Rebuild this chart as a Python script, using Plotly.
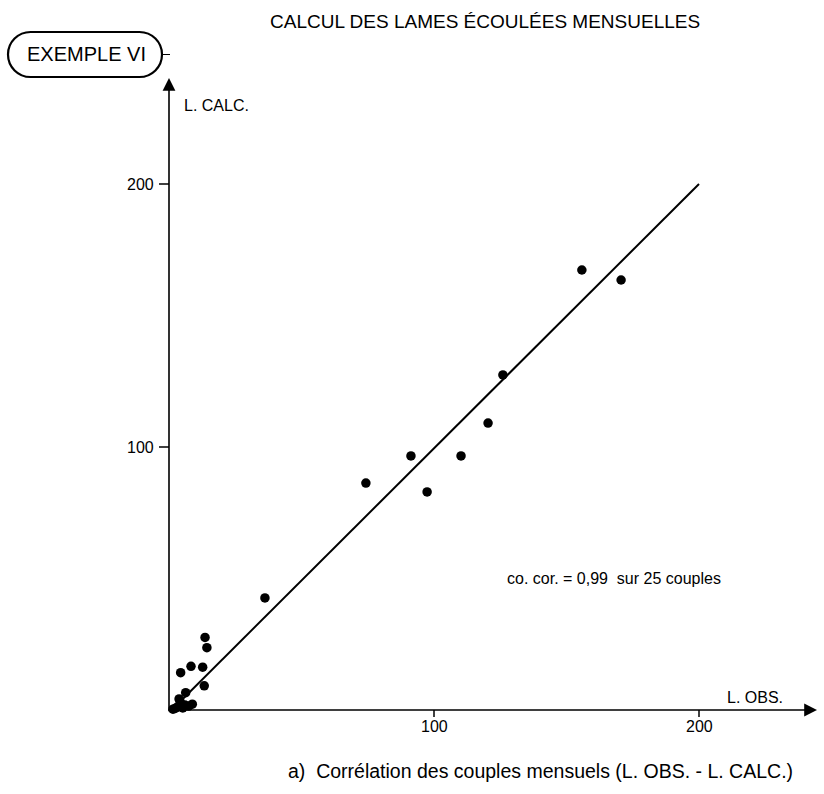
import plotly.graph_objects as go

# Monthly runoff depths (mm): observed vs computed
l_obs = [155.8, 170.6, 126.0, 120.4, 110.2, 91.3, 97.4, 74.3, 36.2,
         13.6, 14.3, 8.3, 4.4, 12.7, 13.3, 6.3, 3.8, 2.3, 6.0, 8.8,
         4.2, 1.5, 3.0, 5.2, 7.4]
l_calc = [167.3, 163.5, 127.4, 109.1, 96.6, 96.6, 82.9, 86.3, 42.6,
          27.6, 23.7, 16.6, 14.2, 16.3, 9.2, 6.6, 4.2, 0.6, 1.9, 2.2,
          3.2, 0.3, 1.0, 0.8, 1.5]

# Fitted line (close to the bisector)
fit_x = [1.5, 200.0]
fit_y = [0.5, 200.0]

x_ticks = [100, 200]
y_ticks = [100, 200]
x_tick_labels = ["100", "200"]
y_tick_labels = ["100", "200"]

W, H = 824, 794
FONT = "Liberation Sans, Arial, sans-serif"

# Axis scale: pixels per unit and origin position
ox, oy = 169.0, 710.0
kx, ky = 2.65, 2.63
x_range = [-ox / kx, (W - ox) / kx]
y_range = [(oy - H) / ky, oy / ky]


def px(xp):
    return xp / W


def py(yp):
    return 1 - yp / H


fig = go.Figure()

fig.add_trace(go.Scatter(
    x=fit_x, y=fit_y, mode="lines",
    line=dict(color="black", width=2), hoverinfo="skip"))

fig.add_trace(go.Scatter(
    x=l_obs, y=l_calc, mode="markers",
    marker=dict(color="black", size=9.5, line=dict(width=0))))

shapes = []
annotations = []

# Axes with arrow heads
annotations.append(dict(
    x=(817 - ox) / kx, y=0, ax=0, ay=0, xref="x", yref="y",
    axref="x", ayref="y", text="", showarrow=True,
    arrowhead=2, arrowsize=1.6, arrowwidth=1.6, arrowcolor="black"))
annotations.append(dict(
    x=0, y=(oy - 78) / ky, ax=0, ay=-1, xref="x", yref="y",
    axref="x", ayref="y", text="", showarrow=True,
    arrowhead=2, arrowsize=1.6, arrowwidth=1.6, arrowcolor="black"))

# Tick marks
for t in x_ticks:
    shapes.append(dict(type="line", xref="x", yref="y",
                       x0=t, x1=t, y0=0, y1=-7 / ky,
                       line=dict(color="black", width=1.5)))
for t in y_ticks:
    shapes.append(dict(type="line", xref="x", yref="y",
                       x0=0, x1=-10 / kx, y0=t, y1=t,
                       line=dict(color="black", width=1.5)))

# Tick labels
for t, lab in zip(x_ticks, x_tick_labels):
    annotations.append(dict(x=t, y=-6 / ky, xref="x", yref="y", text=lab,
                            showarrow=False, xanchor="center", yanchor="top",
                            font=dict(family=FONT, size=16, color="black")))
for t, lab in zip(y_ticks, y_tick_labels):
    annotations.append(dict(x=-13 / kx, y=t, xref="x", yref="y", text=lab,
                            showarrow=False, xanchor="right", yanchor="middle",
                            font=dict(family=FONT, size=16, color="black")))

# Axis names
annotations.append(dict(x=px(182), y=py(105), xref="paper", yref="paper",
                        text="L. CALC.", showarrow=False, xanchor="left",
                        yanchor="middle",
                        font=dict(family=FONT, size=16, color="black")))
annotations.append(dict(x=px(725), y=py(697), xref="paper", yref="paper",
                        text="L. OBS.", showarrow=False, xanchor="left",
                        yanchor="middle",
                        font=dict(family=FONT, size=16, color="black")))

# Title
annotations.append(dict(x=px(268), y=py(22), xref="paper", yref="paper",
                        text="CALCUL DES LAMES ÉCOULÉES MENSUELLES",
                        showarrow=False, xanchor="left", yanchor="middle",
                        font=dict(family=FONT, size=19, color="black")))

# Rounded label box
x0b, x1b, y0b, y1b = 8, 162, 32, 77
r = (y1b - y0b) / 2
k = 0.5523 * r
cy = (y0b + y1b) / 2
path = (
    f"M {px(x0b + r)},{py(y0b)} L {px(x1b - r)},{py(y0b)} "
    f"C {px(x1b - r + k)},{py(y0b)} {px(x1b)},{py(cy - k)} {px(x1b)},{py(cy)} "
    f"C {px(x1b)},{py(cy + k)} {px(x1b - r + k)},{py(y1b)} {px(x1b - r)},{py(y1b)} "
    f"L {px(x0b + r)},{py(y1b)} "
    f"C {px(x0b + r - k)},{py(y1b)} {px(x0b)},{py(cy + k)} {px(x0b)},{py(cy)} "
    f"C {px(x0b)},{py(cy - k)} {px(x0b + r - k)},{py(y0b)} {px(x0b + r)},{py(y0b)} Z"
)
shapes.append(dict(type="path", xref="paper", yref="paper", path=path,
                   line=dict(color="black", width=2.2)))
shapes.append(dict(type="line", xref="paper", yref="paper",
                   x0=px(x1b), x1=px(x1b + 8), y0=py(cy), y1=py(cy),
                   line=dict(color="black", width=1)))
annotations.append(dict(x=px((x0b + x1b) / 2 + 1), y=py(cy), xref="paper",
                        yref="paper", text="EXEMPLE VI", showarrow=False,
                        xanchor="center", yanchor="middle",
                        font=dict(family=FONT, size=20, color="black")))

# Correlation note
annotations.append(dict(x=px(505), y=py(578), xref="paper", yref="paper",
                        text="co. cor. = 0,99  sur 25 couples",
                        showarrow=False, xanchor="left", yanchor="middle",
                        font=dict(family=FONT, size=16, color="black")))

# Caption
annotations.append(dict(x=px(795), y=py(771), xref="paper", yref="paper",
                        text="a)  Corrélation des couples mensuels (L. OBS. - L. CALC.)",
                        showarrow=False, xanchor="right", yanchor="middle",
                        font=dict(family=FONT, size=19.5, color="black")))

fig.update_layout(
    width=W, height=H,
    margin=dict(l=0, r=0, t=0, b=0),
    paper_bgcolor="white", plot_bgcolor="white",
    showlegend=False,
    xaxis=dict(range=x_range, visible=False, fixedrange=True),
    yaxis=dict(range=y_range, visible=False, fixedrange=True),
    shapes=shapes, annotations=annotations,
)

fig.write_html("out.html")
